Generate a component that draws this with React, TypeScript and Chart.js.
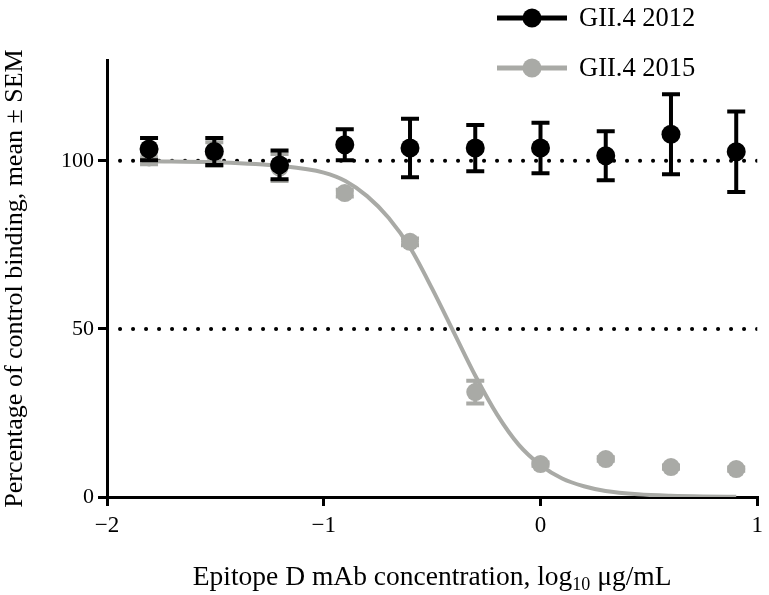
import { useEffect, useRef } from "react";
import { Chart, registerables } from "chart.js";

Chart.register(...registerables);

const FONT = "'Liberation Serif', 'Times New Roman', serif";
const BLACK = "#000000";
const GREY = "#a9aaa6";

// x positions: log10 of mAb concentration (µg/mL)
const concentrationLog = [-1.806, -1.505, -1.204, -0.903, -0.602, -0.301, 0, 0.301, 0.602, 0.903];

// GII.4 2012
const gii2012Mean = [103.5, 102.8, 98.8, 104.8, 103.8, 103.8, 103.8, 101.5, 107.9, 102.7];
const gii2012Sem = [3.3, 4.0, 4.3, 4.6, 8.7, 6.9, 7.5, 7.3, 11.9, 12.0];

// GII.4 2015
const gii2015Mean = [101.0, 102.0, 98.0, 90.4, 75.9, 31.2, 9.8, 11.3, 8.9, 8.3];
const gii2015Sem = [2.0, 3.5, 4.0, 1.0, 1.0, 3.4, 0.5, 0.5, 0.5, 0.5];

// fitted curve for GII.4 2015
const curveX = [-1.806, -1.5, -1.2, -1.0, -0.9, -0.8, -0.7, -0.6, -0.5, -0.4, -0.3, -0.2, -0.1, 0, 0.1, 0.2, 0.3, 0.45, 0.6, 0.75, 0.903];
const curveY = [99.9, 99.6, 98.5, 96.5, 94, 89.5, 83, 74, 62, 49, 36, 24.5, 15.5, 9.5, 5.5, 3.2, 1.8, 0.8, 0.35, 0.15, 0.1];

// reference lines
const referenceLevels = [100, 50];

const xTicks = [-2, -1, 0, 1];
const yTicks = [0, 50, 100];

const seriesLabels = ["GII.4 2012", "GII.4 2015"];
const yTitle = "Percentage of control binding, mean ± SEM";
const xTitleParts = ["Epitope D mAb concentration, log", "10", " μg/mL"];

const errorBarPlugin = {
  id: "errorBars",
  beforeDatasetDraw(chart: any, args: any) {
    const ds: any = chart.data.datasets[args.index];
    if (!ds.errors) return;
    const { ctx, scales } = chart;
    const xs = scales.x;
    const ys = scales.y;
    ctx.save();
    ctx.strokeStyle = ds.errorColor;
    ctx.lineWidth = 4;
    ctx.lineCap = "butt";
    ds.data.forEach((p: any, i: number) => {
      const e = ds.errors[i];
      const px = xs.getPixelForValue(p.x);
      const top = ys.getPixelForValue(p.y + e);
      const bot = ys.getPixelForValue(p.y - e);
      ctx.beginPath();
      ctx.moveTo(px, top);
      ctx.lineTo(px, bot);
      ctx.moveTo(px - 9, top);
      ctx.lineTo(px + 9, top);
      ctx.moveTo(px - 9, bot);
      ctx.lineTo(px + 9, bot);
      ctx.stroke();
    });
    ctx.restore();
  },
};

const legendPlugin = {
  id: "customLegend",
  afterDraw(chart: any) {
    const { ctx } = chart;
    const items = chart.data.datasets.filter((d: any) => d.inLegend);
    ctx.save();
    items.forEach((d: any, i: number) => {
      const y = 18 + i * 50;
      ctx.strokeStyle = d.pointBackgroundColor;
      ctx.lineWidth = 5;
      ctx.beginPath();
      ctx.moveTo(497, y);
      ctx.lineTo(567, y);
      ctx.stroke();
      ctx.fillStyle = d.pointBackgroundColor;
      ctx.beginPath();
      ctx.arc(532, y, 9.5, 0, Math.PI * 2);
      ctx.fill();
      ctx.fillStyle = BLACK;
      ctx.font = `26.5px ${FONT}`;
      ctx.textBaseline = "middle";
      ctx.textAlign = "left";
      ctx.fillText(d.label, 579, y + 1);
    });
    ctx.restore();
  },
};

const xTitlePlugin = {
  id: "xTitle",
  afterDraw(chart: any) {
    const { ctx, chartArea } = chart;
    ctx.save();
    ctx.fillStyle = BLACK;
    ctx.textBaseline = "alphabetic";
    ctx.textAlign = "left";
    const big = `27.5px ${FONT}`;
    const small = `18px ${FONT}`;
    ctx.font = big;
    const w1 = ctx.measureText(xTitleParts[0]).width;
    const w3 = ctx.measureText(xTitleParts[2]).width;
    ctx.font = small;
    const w2 = ctx.measureText(xTitleParts[1]).width;
    const total = w1 + w2 + w3;
    const cx = (chartArea.left + chartArea.right) / 2;
    let x = cx - total / 2;
    const base = 585;
    ctx.font = big;
    ctx.fillText(xTitleParts[0], x, base);
    x += w1;
    ctx.font = small;
    ctx.fillText(xTitleParts[1], x, base + 5);
    x += w2;
    ctx.font = big;
    ctx.fillText(xTitleParts[2], x, base);
    ctx.restore();
  },
};

export default function App() {
  const ref = useRef<HTMLCanvasElement>(null);

  useEffect(() => {
    const pts = (ys: number[]) => concentrationLog.map((x, i) => ({ x, y: ys[i] }));
    const chart = new Chart(ref.current as HTMLCanvasElement, {
      type: "line",
      data: {
        datasets: [
          {
            label: seriesLabels[0],
            data: pts(gii2012Mean),
            errors: gii2012Sem,
            errorColor: BLACK,
            inLegend: true,
            showLine: false,
            pointRadius: 9.5,
            pointBackgroundColor: BLACK,
            pointBorderWidth: 0,
            borderColor: BLACK,
          } as any,
          {
            label: seriesLabels[1],
            data: pts(gii2015Mean),
            errors: gii2015Sem,
            errorColor: GREY,
            inLegend: true,
            showLine: false,
            pointRadius: 9,
            pointBackgroundColor: GREY,
            pointBorderWidth: 0,
            borderColor: GREY,
          } as any,
          {
            label: "fit",
            data: curveX.map((x, i) => ({ x, y: curveY[i] })),
            borderColor: GREY,
            borderWidth: 4,
            pointRadius: 0,
            cubicInterpolationMode: "monotone",
            fill: false,
          } as any,
          ...referenceLevels.map(
            (lv) =>
              ({
                label: `ref${lv}`,
                data: [
                  { x: xTicks[0], y: lv },
                  { x: xTicks[xTicks.length - 1], y: lv },
                ],
                borderColor: BLACK,
                borderWidth: 4,
                borderDash: [0.1, 12.9],
                borderCapStyle: "round",
                pointRadius: 0,
                fill: false,
              }) as any
          ),
        ],
      },
      options: {
        responsive: false,
        animation: false,
        layout: { padding: { top: 60, right: 8, left: 0, bottom: 0 } },
        plugins: { legend: { display: false }, tooltip: { enabled: false } },
        scales: {
          x: {
            type: "linear",
            min: -2,
            max: 1,
            afterBuildTicks: (s: any) => {
              s.ticks = xTicks.map((v) => ({ value: v }));
            },
            afterFit: (s: any) => {
              s.height = 98;
            },
            ticks: {
              color: BLACK,
              font: { family: FONT, size: 23 },
              padding: 6,
              callback: (v: any) => String(v).replace("-", "−"),
            },
            grid: { drawOnChartArea: false, drawTicks: true, tickLength: 9, lineWidth: 3, color: BLACK },
            border: { color: BLACK, width: 3 },
          },
          y: {
            type: "linear",
            min: 0,
            max: 130,
            afterBuildTicks: (s: any) => {
              s.ticks = yTicks.map((v) => ({ value: v }));
            },
            afterFit: (s: any) => {
              s.width = 107;
            },
            ticks: {
              color: BLACK,
              font: { family: FONT, size: 22 },
              padding: 4,
            },
            grid: { drawOnChartArea: false, drawTicks: true, tickLength: 9, lineWidth: 3, color: BLACK },
            border: { color: BLACK, width: 3 },
            title: {
              display: true,
              text: yTitle,
              color: BLACK,
              font: { family: FONT, size: 26 },
              padding: { top: 0, bottom: 0 },
            },
          },
        },
      } as any,
      plugins: [errorBarPlugin, legendPlugin, xTitlePlugin],
    });
    return () => chart.destroy();
  }, []);

  return (
    <canvas
      ref={ref}
      width={769}
      height={595}
      style={{ position: "absolute", left: 0, top: 0, display: "block", background: "#ffffff" }}
    />
  );
}
